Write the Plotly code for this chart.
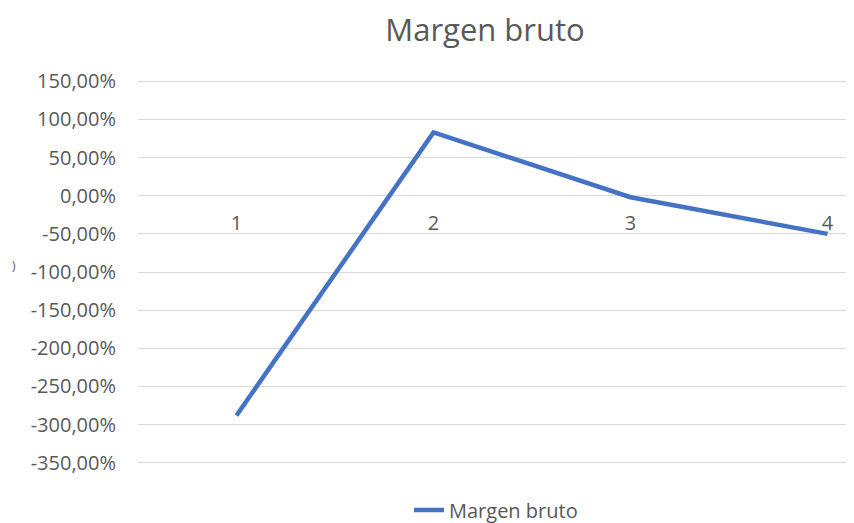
import plotly.graph_objects as go

# Data
periods = [1, 2, 3, 4]
margen_bruto = [-2.88, 0.83, -0.02, -0.50]   # fractions, shown as %
y_ticks = [1.5, 1.0, 0.5, 0.0, -0.5, -1.0, -1.5, -2.0, -2.5, -3.0, -3.5]
# spreadsheet style labels: decimal comma, plain hyphen as minus
y_labels = [f"{v * 100:.2f}%".replace(".", ",") for v in y_ticks]

# the page body keeps its 8px default margin, so the figure is 8px smaller
W, H = 846, 515
OFF = 8
grey = "#595959"
font_family = "Open Sans, Liberation Sans, sans-serif"

y_min, y_max = -3.53, 1.53
L, R, T, B = 130, 2, 71, 58
plot_w, plot_h = W - L - R, H - T - B

fig = go.Figure()
fig.add_trace(go.Scatter(
    x=periods, y=margen_bruto, mode="lines", name="Margen bruto",
    line=dict(color="#4472C4", width=4.5),
))

fig.update_layout(
    width=W, height=H,
    paper_bgcolor="white", plot_bgcolor="white",
    margin=dict(l=L, r=R, t=T, b=B, autoexpand=False),
    title=dict(text="Margen bruto", xref="container", x=(485 - OFF) / W, xanchor="center",
               yref="container", y=1 - (30 - OFF) / H, yanchor="middle",
               font=dict(family=font_family, size=31, color=grey)),
    font=dict(family=font_family, color=grey),
    showlegend=True,
    legend=dict(orientation="h", xref="container", x=(496 - OFF) / W, xanchor="center",
                yref="container", y=1 - (510 - OFF) / H, yanchor="middle",
                font=dict(size=20, color=grey), bgcolor="rgba(0,0,0,0)"),
)

# leftover of the cropped axis title at the left edge
fig.add_annotation(text=")", xref="paper", yref="paper",
                   x=(10 - OFF - L) / plot_w, y=(T + plot_h - (265 - OFF)) / plot_h,
                   showarrow=False, font=dict(size=12, color=grey))

# category axis crosses at 0 like in the spreadsheet chart
fig.update_xaxes(
    range=[0.5, 4.124], tickvals=periods, ticktext=[str(p) for p in periods],
    anchor="free", position=(0 - y_min) / (y_max - y_min),
    showgrid=False, zeroline=False, showline=False, ticks="",
    ticklabelstandoff=13, tickfont=dict(size=20, color=grey),
)
fig.update_yaxes(
    range=[y_min, y_max], tickvals=y_ticks, ticktext=y_labels,
    showgrid=True, gridcolor="#D9D9D9", gridwidth=1,
    zeroline=False, showline=False, ticks="",
    ticklabelstandoff=21, tickfont=dict(size=20, color=grey),
)

fig.write_html("out.html")
